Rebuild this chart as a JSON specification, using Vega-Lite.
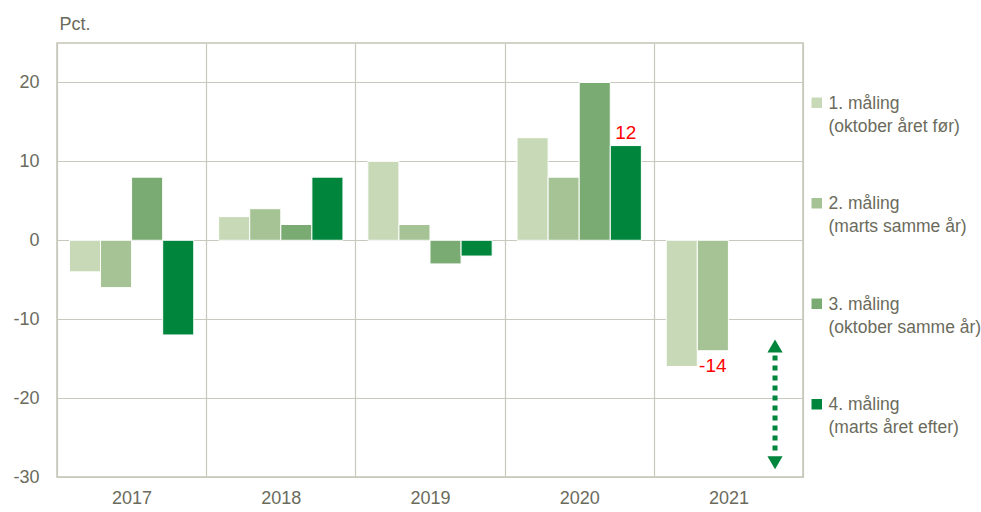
{
  "$schema": "https://vega.github.io/schema/vega-lite/v6.json",
  "width": 746,
  "height": 434,
  "autosize": {"type": "none"},
  "padding": {"left": 57, "top": 43, "right": 178, "bottom": 35},
  "config": {
    "font": "Liberation Sans",
    "view": {"stroke": "#c4c4b8", "strokeWidth": 1.5},
    "style": {"guide-label": {"dy": 6, "lineHeight": 23}},
    "axis": {"labelFont": "Liberation Sans", "labelColor": "#6b6b5c", "labelFontSize": 18, "gridColor": "#c8c8bc", "gridWidth": 1.2, "domain": false, "ticks": false},
    "legend": {"labelFont": "Liberation Sans", "labelColor": "#6b6b5c", "labelFontSize": 17.5}
  },
  "datasets": {
    "bars": [
      {"year": "2017", "series": "1. måling (oktober året før)", "value": -4},
      {"year": "2017", "series": "2. måling (marts samme år)", "value": -6},
      {"year": "2017", "series": "3. måling (oktober samme år)", "value": 8},
      {"year": "2017", "series": "4. måling (marts året efter)", "value": -12},
      {"year": "2018", "series": "1. måling (oktober året før)", "value": 3},
      {"year": "2018", "series": "2. måling (marts samme år)", "value": 4},
      {"year": "2018", "series": "3. måling (oktober samme år)", "value": 2},
      {"year": "2018", "series": "4. måling (marts året efter)", "value": 8},
      {"year": "2019", "series": "1. måling (oktober året før)", "value": 10},
      {"year": "2019", "series": "2. måling (marts samme år)", "value": 2},
      {"year": "2019", "series": "3. måling (oktober samme år)", "value": -3},
      {"year": "2019", "series": "4. måling (marts året efter)", "value": -2},
      {"year": "2020", "series": "1. måling (oktober året før)", "value": 13},
      {"year": "2020", "series": "2. måling (marts samme år)", "value": 8},
      {"year": "2020", "series": "3. måling (oktober samme år)", "value": 20},
      {"year": "2020", "series": "4. måling (marts året efter)", "value": 12},
      {"year": "2021", "series": "1. måling (oktober året før)", "value": -16},
      {"year": "2021", "series": "2. måling (marts samme år)", "value": -14}
    ],
    "arrow": [
      {"year": "2021", "series": "4. måling (marts året efter)", "y1": -14.6, "y2": -27.2}
    ],
    "heads": [
      {"year": "2021", "series": "4. måling (marts året efter)", "y": -13.4, "dir": "up"},
      {"year": "2021", "series": "4. måling (marts året efter)", "y": -28.2, "dir": "down"}
    ],
    "zero": [{"y": 0}]
  },
  "encoding": {
    "x": {
      "field": "year", "type": "nominal", "title": null,
      "scale": {"domain": ["2017", "2018", "2019", "2020", "2021"], "paddingInner": 0, "paddingOuter": 0},
      "axis": {"labelAngle": 0, "labelPadding": 6, "grid": true, "tickBand": "extent"}
    }
  },
  "layer": [
    {
      "data": {"name": "bars"},
      "mark": {"type": "bar", "stroke": "white", "strokeWidth": 1},
      "encoding": {
        "xOffset": {"field": "series", "type": "nominal", "scale": {"paddingOuter": 0.4, "paddingInner": 0}},
        "y": {
          "field": "value", "type": "quantitative", "title": "Pct.",
          "scale": {"domain": [-30, 25], "nice": false, "zero": false},
          "axis": {"values": [-30, -20, -10, 0, 10, 20], "labelExpr": "datum.value + ''", "labelOffset": -6, "labelPadding": 18, "titleAngle": 0, "titleAlign": "left", "titleBaseline": "bottom", "titleX": 2, "titleY": -10, "titleFont": "Liberation Sans", "titleFontSize": 18, "titleFontWeight": "normal", "titleColor": "#6b6b5c"}
        },
        "color": {
          "field": "series", "type": "nominal",
          "scale": {"range": ["#c8d9b8", "#a5c395", "#7aab72", "#00853d"]},
          "legend": {
            "title": null, "orient": "none", "legendX": 751, "legendY": 51,
            "symbolType": "square", "symbolSize": 110, "symbolStrokeWidth": 0,
            "labelExpr": "[split(datum.label, ' (')[0], '(' + split(datum.label, ' (')[1]]",
            "labelBaseline": "alphabetic", "labelOffset": 3, "rowPadding": 58.5, "labelLimit": 200
          }
        }
      }
    },
    {
      "data": {"name": "zero"},
      "mark": {"type": "rule", "color": "#8c8c7c", "strokeWidth": 2},
      "encoding": {"y": {"field": "y", "type": "quantitative"}}
    },
    {
      "data": {"name": "bars"},
      "transform": [{"filter": "datum.year == '2020' && datum.series == '4. måling (marts året efter)'"}],
      "mark": {"type": "text", "color": "#ff0000", "fontSize": 19, "baseline": "bottom", "dy": -3},
      "encoding": {
        "xOffset": {"field": "series", "type": "nominal"},
        "y": {"field": "value", "type": "quantitative"},
        "text": {"field": "value", "type": "nominal"}
      }
    },
    {
      "data": {"name": "bars"},
      "transform": [{"filter": "datum.year == '2021' && datum.series == '2. måling (marts samme år)'"}],
      "mark": {"type": "text", "color": "#ff0000", "fontSize": 19, "baseline": "top", "dy": 6},
      "encoding": {
        "xOffset": {"field": "series", "type": "nominal"},
        "y": {"field": "value", "type": "quantitative"},
        "text": {"field": "value", "type": "nominal"}
      }
    },
    {
      "data": {"name": "arrow"},
      "mark": {"type": "rule", "color": "#00853d", "strokeWidth": 5, "strokeDash": [5, 5], "xOffset": 3},
      "encoding": {
        "xOffset": {"field": "series", "type": "nominal"},
        "y": {"field": "y1", "type": "quantitative"},
        "y2": {"field": "y2"}
      }
    },
    {
      "data": {"name": "heads"},
      "mark": {"type": "point", "filled": true, "color": "#00853d", "size": 230, "opacity": 1, "xOffset": 3},
      "encoding": {
        "xOffset": {"field": "series", "type": "nominal"},
        "y": {"field": "y", "type": "quantitative"},
        "shape": {"field": "dir", "type": "nominal", "scale": {"domain": ["up", "down"], "range": ["triangle-up", "triangle-down"]}, "legend": null}
      }
    }
  ]
}
